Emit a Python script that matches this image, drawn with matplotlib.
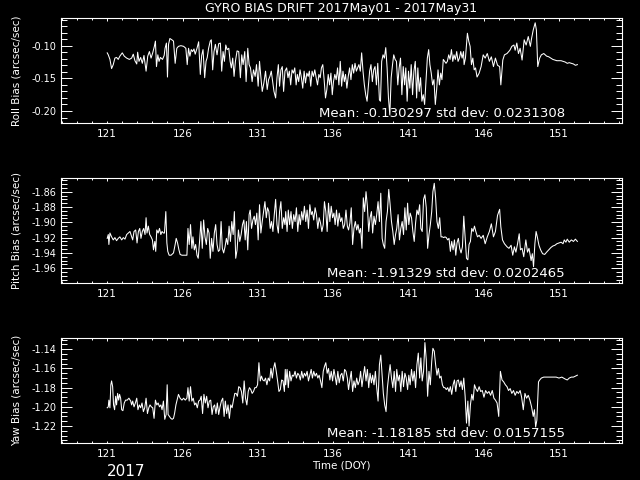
import matplotlib
matplotlib.use("Agg")
import matplotlib.pyplot as plt
from matplotlib.ticker import MultipleLocator, FixedLocator, FormatStrFormatter

# Gyro bias drift (DOY vs arcsec/sec)
roll_day = [
    121.00, 121.07, 121.18, 121.29, 121.40, 121.51, 121.62, 121.73, 121.84, 122.00,
    122.13, 122.29, 122.47, 122.62, 122.73, 122.84, 122.96, 123.02, 123.11, 123.22,
    123.33, 123.44, 123.58, 123.69, 123.80, 123.91, 124.02, 124.13, 124.20, 124.27,
    124.36, 124.44, 124.53, 124.67, 124.78, 124.84, 124.93, 125.00, 125.07, 125.16,
    125.29, 125.40, 125.51, 125.62, 125.73, 125.89, 126.07, 126.22, 126.31, 126.40,
    126.49, 126.58, 126.67, 126.76, 126.84, 126.96, 127.07, 127.18, 127.27, 127.36,
    127.47, 127.56, 127.64, 127.73, 127.84, 127.91, 128.00, 128.09, 128.18, 128.29,
    128.40, 128.51, 128.60, 128.69, 128.78, 128.87, 128.96, 129.07, 129.16, 129.24,
    129.33, 129.42, 129.51, 129.62, 129.73, 129.84, 129.93, 130.02, 130.13, 130.22,
    130.33, 130.42, 130.51, 130.62, 130.71, 130.82, 130.91, 131.02, 131.11, 131.20,
    131.29, 131.40, 131.51, 131.62, 131.71, 131.80, 131.89, 131.98, 132.07, 132.18,
    132.27, 132.36, 132.44, 132.53, 132.62, 132.71, 132.80,
    132.91, 133.00, 133.09, 133.18, 133.27, 133.36, 133.45, 133.54, 133.62, 133.71,
    133.80, 133.89, 133.98, 134.07, 134.16, 134.25, 134.34, 134.42, 134.51, 134.60,
    134.69, 134.78, 134.87, 134.96, 135.05, 135.14, 135.22, 135.31, 135.40, 135.49,
    135.58, 135.67, 135.76, 135.85, 135.94, 136.02, 136.11, 136.20, 136.29, 136.38,
    136.47, 136.56, 136.65, 136.74, 136.82, 136.91, 137.00, 137.09, 137.18, 137.27,
    137.36, 137.45, 137.54, 137.62, 137.71, 137.80, 137.89, 137.98, 138.07, 138.16,
    138.25, 138.34, 138.42, 138.51, 138.60, 138.69, 138.78, 138.87, 138.96, 139.07,
    139.14, 139.22, 139.31, 139.40, 139.49, 139.58, 139.67, 139.76, 139.85, 139.94,
    140.02, 140.11, 140.20, 140.29, 140.38, 140.47, 140.56, 140.65, 140.74, 140.82,
    140.91, 141.00, 141.09, 141.18, 141.27, 141.36, 141.45, 141.54, 141.62, 141.71,
    141.80, 141.89, 141.98, 142.07, 142.16, 142.25, 142.34, 142.42, 142.51, 142.60,
    142.69, 142.78, 142.87, 142.96, 143.05, 143.14, 143.22, 143.31, 143.40, 143.49,
    143.58, 143.67, 143.76, 143.85, 143.94, 144.02, 144.11, 144.20, 144.29, 144.38,
    144.47, 144.56, 144.65, 144.69, 144.78, 144.85, 144.91, 145.00, 145.09, 145.18,
    145.27, 145.36, 145.45,
    145.55, 145.69, 145.82, 145.96, 146.09, 146.23, 146.37, 146.50, 146.64, 146.77,
    146.91, 147.05, 147.13, 147.26, 147.37, 147.54, 147.73, 147.86, 148.00, 148.08,
    148.19, 148.30, 148.41, 148.54, 148.68, 148.81, 148.95, 149.09, 149.17, 149.28,
    149.41, 149.49, 149.58, 149.71, 149.82, 149.98, 150.17, 150.31, 150.45, 150.58,
    150.72, 150.85, 150.99, 151.13, 151.26, 151.40, 151.54, 151.67, 151.81, 151.95,
    152.08, 152.21,
]
roll_val = [
    -0.111, -0.114, -0.121, -0.135, -0.129, -0.119, -0.118, -0.121, -0.116, -0.111,
    -0.116, -0.119, -0.121, -0.119, -0.113, -0.123, -0.128, -0.110, -0.124, -0.118,
    -0.127, -0.115, -0.139, -0.116, -0.109, -0.119, -0.111, -0.101, -0.093, -0.132,
    -0.114, -0.124, -0.118, -0.121, -0.115, -0.104, -0.096, -0.148, -0.098, -0.089,
    -0.091, -0.093, -0.127, -0.104, -0.101, -0.100, -0.101, -0.104, -0.129, -0.104,
    -0.116, -0.106, -0.109, -0.105, -0.113, -0.104, -0.094, -0.144, -0.115, -0.106,
    -0.149, -0.124, -0.118, -0.104, -0.093, -0.091, -0.137, -0.109, -0.098, -0.114,
    -0.097, -0.096, -0.139, -0.109, -0.124, -0.099, -0.106, -0.104, -0.124, -0.134,
    -0.119, -0.147, -0.124, -0.108, -0.109, -0.149, -0.114, -0.129, -0.109, -0.155,
    -0.104, -0.129, -0.134, -0.155, -0.137, -0.147, -0.129, -0.162, -0.124, -0.148,
    -0.170, -0.157, -0.139, -0.167, -0.152, -0.147, -0.139, -0.155, -0.170, -0.180,
    -0.149, -0.129, -0.162, -0.137, -0.132, -0.170, -0.139,
    -0.134, -0.149, -0.139, -0.160, -0.137, -0.142, -0.134, -0.160, -0.144, -0.155,
    -0.137, -0.149, -0.165, -0.139, -0.157, -0.142, -0.147, -0.139, -0.162, -0.139,
    -0.147, -0.137, -0.149, -0.160, -0.144, -0.149, -0.134, -0.129, -0.152, -0.180,
    -0.167, -0.144, -0.160, -0.142, -0.175, -0.155, -0.144, -0.152, -0.134, -0.160,
    -0.124, -0.162, -0.139, -0.155, -0.144, -0.165, -0.147, -0.134, -0.152, -0.129,
    -0.142, -0.127, -0.139, -0.134, -0.129, -0.139, -0.111, -0.139, -0.160, -0.175,
    -0.185, -0.160, -0.139, -0.129, -0.155, -0.137, -0.132, -0.160, -0.127, -0.183,
    -0.185, -0.124, -0.114, -0.119, -0.103, -0.134, -0.180, -0.206, -0.149, -0.129,
    -0.114, -0.121, -0.124, -0.160, -0.134, -0.119, -0.175, -0.132, -0.160, -0.134,
    -0.185, -0.139, -0.165, -0.129, -0.175, -0.139, -0.124, -0.180, -0.134, -0.170,
    -0.149, -0.185, -0.175, -0.190, -0.155, -0.119, -0.106, -0.129, -0.142, -0.160,
    -0.152, -0.190, -0.167, -0.137, -0.160, -0.142, -0.152, -0.121, -0.124, -0.127,
    -0.124, -0.114, -0.121, -0.106, -0.124, -0.114, -0.121, -0.109, -0.124, -0.119,
    -0.109, -0.119, -0.109, -0.129, -0.119, -0.098, -0.081, -0.093, -0.101, -0.129,
    -0.119, -0.137, -0.134,
    -0.148, -0.142, -0.132, -0.114, -0.119, -0.112, -0.124, -0.117, -0.132, -0.119,
    -0.130, -0.132, -0.160, -0.122, -0.114, -0.112, -0.107, -0.101, -0.099, -0.107,
    -0.096, -0.112, -0.104, -0.122, -0.091, -0.099, -0.086, -0.101, -0.089, -0.076,
    -0.065, -0.076, -0.132, -0.119, -0.114, -0.112, -0.116, -0.117, -0.119, -0.121,
    -0.122, -0.123, -0.123, -0.123, -0.124, -0.125, -0.127, -0.126, -0.127, -0.128,
    -0.130, -0.129,
]

pitch_day = [
    121.00, 121.07, 121.11, 121.18, 121.29, 121.40, 121.51, 121.62, 121.73, 121.84,
    121.96, 122.07, 122.18, 122.29, 122.40, 122.51, 122.62, 122.69, 122.78, 122.89,
    122.98, 123.07, 123.16, 123.24, 123.33, 123.42, 123.51, 123.58, 123.64, 123.73,
    123.82, 123.91, 124.00, 124.07, 124.16, 124.22, 124.29, 124.38, 124.47, 124.56,
    124.64, 124.73, 124.80, 124.89, 124.96, 125.02, 125.11, 125.24, 125.40, 125.51,
    125.58, 125.67, 125.76, 125.84, 125.96, 126.13, 126.29, 126.36, 126.44, 126.53,
    126.62, 126.69, 126.78, 126.87, 126.96, 127.04, 127.13, 127.22, 127.31, 127.40,
    127.49, 127.58, 127.67, 127.76, 127.84, 127.93, 128.02, 128.11, 128.20, 128.29,
    128.38, 128.47, 128.56, 128.64, 128.73, 128.82, 128.91, 129.00, 129.09, 129.18,
    129.27, 129.36, 129.44, 129.53, 129.62, 129.71, 129.80, 129.89, 129.98, 130.07,
    130.16, 130.24, 130.33, 130.42, 130.49, 130.58, 130.67, 130.76, 130.84, 130.93,
    131.02, 131.11, 131.20, 131.29, 131.38, 131.47, 131.56, 131.64, 131.73, 131.82,
    131.91, 132.00, 132.09, 132.18, 132.27, 132.36, 132.44, 132.53, 132.62, 132.71,
    132.80,
    132.85, 132.94, 133.02, 133.11, 133.20, 133.29, 133.38, 133.47, 133.56, 133.65,
    133.74, 133.82, 133.91, 134.00, 134.09, 134.18, 134.27, 134.36, 134.45, 134.54,
    134.62, 134.71, 134.80, 134.89, 134.98, 135.07, 135.16, 135.25, 135.34, 135.42,
    135.51, 135.60, 135.69, 135.78, 135.87, 135.96, 136.05, 136.13, 136.22, 136.31,
    136.40, 136.49, 136.58, 136.67, 136.76, 136.85, 136.94, 137.02, 137.11, 137.20,
    137.29, 137.38, 137.47, 137.56, 137.65, 137.74, 137.82, 137.91, 138.00, 138.09,
    138.18, 138.27, 138.36, 138.45, 138.54, 138.62, 138.71, 138.80, 138.89, 138.98,
    139.07, 139.16, 139.25, 139.33, 139.42, 139.51, 139.60, 139.69, 139.78, 139.87,
    139.96, 140.05, 140.14, 140.22, 140.31, 140.40, 140.49, 140.58, 140.67, 140.76,
    140.85, 140.94, 141.02, 141.11, 141.20, 141.29, 141.38, 141.47, 141.56, 141.65,
    141.74, 141.82, 141.91, 142.00, 142.09, 142.18, 142.27, 142.36, 142.45, 142.54,
    142.62, 142.71, 142.80, 142.89, 142.98, 143.07, 143.16, 143.25, 143.34, 143.42,
    143.51, 143.60, 143.69, 143.78, 143.87, 143.96, 144.05, 144.14, 144.22, 144.31,
    144.40, 144.49, 144.58, 144.67, 144.76, 144.85, 144.94, 145.02, 145.11, 145.20,
    145.29, 145.38,
    145.47, 145.58, 145.69, 145.82, 145.96, 146.09, 146.23, 146.37, 146.50, 146.64,
    146.77, 146.91, 147.05, 147.13, 147.24, 147.37, 147.54, 147.67, 147.81, 147.92,
    148.03, 148.13, 148.24, 148.35, 148.43, 148.54, 148.65, 148.79, 148.90, 149.00,
    149.14, 149.22, 149.30, 149.39, 149.47, 149.55, 149.66, 149.77, 149.90, 150.04,
    150.17, 150.31, 150.45, 150.58, 150.72, 150.85, 150.99, 151.13, 151.26, 151.34,
    151.45, 151.54, 151.67, 151.81, 151.95, 152.08, 152.21,
]
pitch_val = [
    -1.921, -1.916, -1.929, -1.914, -1.919, -1.923, -1.920, -1.924, -1.921, -1.919,
    -1.923, -1.920, -1.922, -1.916, -1.914, -1.912, -1.919, -1.923, -1.912, -1.910,
    -1.927, -1.912, -1.908, -1.921, -1.912, -1.908, -1.916, -1.894, -1.914, -1.905,
    -1.916, -1.919, -1.923, -1.936, -1.925, -1.938, -1.910, -1.914, -1.908, -1.916,
    -1.912, -1.914, -1.914, -1.886, -1.927, -1.938, -1.943, -1.943, -1.940, -1.929,
    -1.921, -1.927, -1.936, -1.942, -1.943, -1.943, -1.943, -1.908, -1.929, -1.903,
    -1.934, -1.919, -1.936, -1.929, -1.943, -1.947, -1.925, -1.899, -1.934, -1.897,
    -1.919, -1.929, -1.908, -1.914, -1.947, -1.921, -1.938, -1.914, -1.903, -1.929,
    -1.938, -1.936, -1.899, -1.934, -1.940, -1.932, -1.921, -1.929, -1.905, -1.925,
    -1.899, -1.916, -1.886, -1.947, -1.936, -1.910, -1.925, -1.916, -1.903, -1.897,
    -1.923, -1.899, -1.936, -1.890, -1.884, -1.908, -1.897, -1.892, -1.903, -1.888,
    -1.923, -1.877, -1.914, -1.899, -1.886, -1.873, -1.894, -1.881, -1.886, -1.908,
    -1.899, -1.912, -1.890, -1.870, -1.903, -1.914, -1.886, -1.873, -1.908, -1.894,
    -1.903,
    -1.886, -1.912, -1.884, -1.903, -1.886, -1.908, -1.890, -1.899, -1.881, -1.912,
    -1.890, -1.903, -1.886, -1.897, -1.879, -1.899, -1.884, -1.908, -1.877, -1.890,
    -1.886, -1.897, -1.881, -1.890, -1.908, -1.894, -1.901, -1.912, -1.903, -1.873,
    -1.886, -1.912, -1.875, -1.899, -1.879, -1.894, -1.888, -1.903, -1.884, -1.905,
    -1.888, -1.899, -1.894, -1.908, -1.903, -1.884, -1.905, -1.910, -1.901, -1.881,
    -1.929, -1.908, -1.899, -1.910, -1.903, -1.914, -1.908, -1.934, -1.868, -1.886,
    -1.860, -1.879, -1.912, -1.894, -1.886, -1.914, -1.892, -1.903, -1.890, -1.873,
    -1.899, -1.862, -1.921, -1.929, -1.934, -1.899, -1.886, -1.857, -1.877, -1.899,
    -1.912, -1.929, -1.916, -1.908, -1.890, -1.923, -1.908, -1.899, -1.916, -1.881,
    -1.910, -1.875, -1.903, -1.888, -1.894, -1.912, -1.925, -1.901, -1.884, -1.890,
    -1.877, -1.908, -1.912, -1.870, -1.864, -1.881, -1.934, -1.916, -1.903, -1.886,
    -1.860, -1.849, -1.868, -1.899, -1.908, -1.894, -1.919, -1.919, -1.920, -1.919,
    -1.920, -1.923, -1.921, -1.938, -1.925, -1.936, -1.923, -1.943, -1.927, -1.921,
    -1.934, -1.940, -1.932, -1.892, -1.919, -1.947, -1.949, -1.929, -1.925, -1.908,
    -1.912, -1.905,
    -1.912, -1.919, -1.917, -1.921, -1.917, -1.928, -1.919, -1.912, -1.902, -1.919,
    -1.912, -1.891, -1.883, -1.906, -1.923, -1.928, -1.932, -1.934, -1.930, -1.943,
    -1.932, -1.939, -1.928, -1.915, -1.936, -1.934, -1.945, -1.923, -1.939, -1.934,
    -1.950, -1.941, -1.958, -1.928, -1.912, -1.919, -1.930, -1.936, -1.941, -1.942,
    -1.939, -1.936, -1.933, -1.931, -1.930, -1.928, -1.927, -1.926, -1.928, -1.923,
    -1.926, -1.922, -1.926, -1.923, -1.925, -1.922, -1.925,
]

yaw_day = [
    121.00, 121.07, 121.11, 121.18, 121.24, 121.29, 121.36, 121.42, 121.49, 121.56,
    121.62, 121.69, 121.76, 121.82, 121.89, 121.96, 122.04, 122.13, 122.22, 122.33,
    122.44, 122.56, 122.62, 122.69, 122.78, 122.87, 122.96, 123.04, 123.13, 123.22,
    123.31, 123.40, 123.49, 123.58, 123.67, 123.76, 123.84, 123.93, 124.02, 124.11,
    124.20, 124.29, 124.38, 124.47, 124.56, 124.64, 124.73, 124.82, 124.91, 124.98,
    125.04, 125.13, 125.22, 125.31, 125.40, 125.47, 125.56, 125.64, 125.73, 125.84,
    125.96, 126.07, 126.18, 126.29, 126.36, 126.44, 126.53, 126.62, 126.71, 126.80,
    126.89, 126.98, 127.07, 127.16, 127.24, 127.33, 127.42, 127.51, 127.60, 127.69,
    127.78, 127.87, 127.96, 128.04, 128.13, 128.22, 128.31, 128.40, 128.49, 128.58,
    128.67, 128.76, 128.84, 128.93, 129.02, 129.11, 129.20, 129.29, 129.38, 129.47,
    129.56, 129.64, 129.73, 129.82, 129.91, 130.00, 130.09, 130.18, 130.27, 130.36,
    130.44, 130.53, 130.62, 130.71, 130.80, 130.89, 130.98, 131.07, 131.16, 131.24,
    131.33, 131.42, 131.51, 131.60, 131.69, 131.78, 131.87, 131.96, 132.04, 132.13,
    132.22, 132.31, 132.40, 132.49, 132.58, 132.67, 132.76, 132.82,
    132.85, 132.94, 133.02, 133.11, 133.20, 133.29, 133.38, 133.47, 133.56, 133.65,
    133.74, 133.82, 133.91, 134.00, 134.09, 134.18, 134.27, 134.36, 134.45, 134.54,
    134.62, 134.71, 134.80, 134.89, 134.98, 135.07, 135.16, 135.25, 135.34, 135.42,
    135.51, 135.60, 135.69, 135.78, 135.87, 135.96, 136.05, 136.13, 136.22, 136.31,
    136.40, 136.49, 136.58, 136.67, 136.76, 136.85, 136.94, 137.02, 137.11, 137.20,
    137.29, 137.38, 137.47, 137.56, 137.65, 137.74, 137.82, 137.91, 138.00, 138.09,
    138.18, 138.27, 138.36, 138.45, 138.54, 138.62, 138.71, 138.80, 138.89, 138.98,
    139.07, 139.16, 139.25, 139.33, 139.42, 139.51, 139.60, 139.69, 139.78, 139.87,
    139.96, 140.05, 140.14, 140.22, 140.31, 140.40, 140.49, 140.58, 140.67, 140.76,
    140.85, 140.94, 141.02, 141.11, 141.20, 141.29, 141.38, 141.47, 141.56, 141.65,
    141.74, 141.82, 141.91, 142.00, 142.09, 142.18, 142.27, 142.36, 142.45, 142.54,
    142.62, 142.71, 142.80, 142.89, 142.98, 143.07, 143.16, 143.25, 143.34, 143.42,
    143.51, 143.60, 143.69, 143.78, 143.87, 143.96, 144.05, 144.14, 144.22, 144.31,
    144.40, 144.49, 144.58, 144.67, 144.76, 144.85, 144.94, 145.02, 145.11, 145.20,
    145.29, 145.38,
    145.47, 145.58, 145.69, 145.79, 145.90, 146.01, 146.12, 146.23, 146.34, 146.45,
    146.56, 146.67, 146.77, 146.88, 146.99, 147.10, 147.21, 147.32, 147.43, 147.54,
    147.64, 147.75, 147.86, 147.97, 148.08, 148.19, 148.30, 148.41, 148.51, 148.62,
    148.73, 148.84, 148.95, 149.06, 149.17, 149.28, 149.36, 149.44, 149.52, 149.63,
    149.71, 149.82, 149.98, 150.17, 150.36, 150.58, 150.80, 150.99, 151.18, 151.40,
    151.54, 151.67, 151.81, 151.95, 152.08, 152.21,
]
yaw_val = [
    -1.201, -1.200, -1.193, -1.201, -1.177, -1.173, -1.179, -1.198, -1.203, -1.189,
    -1.198, -1.186, -1.193, -1.187, -1.191, -1.203, -1.204, -1.196, -1.193, -1.193,
    -1.191, -1.194, -1.198, -1.194, -1.200, -1.196, -1.191, -1.203, -1.198, -1.201,
    -1.196, -1.205, -1.201, -1.191, -1.207, -1.201, -1.198, -1.200, -1.201, -1.212,
    -1.193, -1.198, -1.196, -1.200, -1.198, -1.203, -1.194, -1.213, -1.208, -1.177,
    -1.208, -1.210, -1.212, -1.213, -1.212, -1.207, -1.198, -1.193, -1.187, -1.191,
    -1.193, -1.191, -1.193, -1.191, -1.180, -1.194, -1.179, -1.194, -1.191, -1.198,
    -1.196, -1.201, -1.194, -1.193, -1.189, -1.207, -1.187, -1.196, -1.189, -1.201,
    -1.194, -1.193, -1.208, -1.200, -1.198, -1.207, -1.196, -1.208, -1.200, -1.194,
    -1.191, -1.210, -1.194, -1.207, -1.198, -1.212, -1.198, -1.201, -1.193, -1.186,
    -1.186, -1.189, -1.179, -1.180, -1.184, -1.196, -1.173, -1.191, -1.198, -1.184,
    -1.180, -1.182, -1.186, -1.184, -1.180, -1.180, -1.177, -1.154, -1.173, -1.168,
    -1.172, -1.173, -1.170, -1.177, -1.170, -1.173, -1.160, -1.170, -1.160, -1.154,
    -1.163, -1.173, -1.184, -1.182, -1.172, -1.173, -1.184, -1.161,
    -1.177, -1.161, -1.180, -1.163, -1.173, -1.167, -1.168, -1.163, -1.170, -1.165,
    -1.167, -1.172, -1.163, -1.170, -1.165, -1.168, -1.163, -1.173, -1.167, -1.161,
    -1.170, -1.163, -1.168, -1.165, -1.170, -1.167, -1.173, -1.180, -1.163, -1.158,
    -1.154, -1.165, -1.160, -1.172, -1.163, -1.173, -1.161, -1.168, -1.177, -1.163,
    -1.175, -1.167, -1.165, -1.173, -1.161, -1.163, -1.170, -1.182, -1.172, -1.163,
    -1.184, -1.173, -1.180, -1.170, -1.177, -1.173, -1.163, -1.179, -1.168, -1.158,
    -1.173, -1.161, -1.180, -1.165, -1.175, -1.167, -1.177, -1.163, -1.180, -1.194,
    -1.156, -1.146, -1.167, -1.186, -1.198, -1.205, -1.180, -1.167, -1.156, -1.170,
    -1.180, -1.163, -1.184, -1.161, -1.173, -1.167, -1.184, -1.163, -1.179, -1.165,
    -1.170, -1.182, -1.167, -1.177, -1.161, -1.173, -1.163, -1.180, -1.156, -1.144,
    -1.170, -1.149, -1.173, -1.163, -1.133, -1.151, -1.189, -1.163, -1.177, -1.153,
    -1.139, -1.142, -1.156, -1.167, -1.160, -1.170, -1.168, -1.177, -1.180, -1.180,
    -1.182, -1.180, -1.184, -1.179, -1.187, -1.177, -1.172, -1.184, -1.173, -1.172,
    -1.179, -1.173, -1.182, -1.170, -1.189, -1.217, -1.194, -1.220, -1.198, -1.187,
    -1.193, -1.177,
    -1.181, -1.184, -1.179, -1.184, -1.183, -1.190, -1.183, -1.186, -1.184, -1.188,
    -1.183, -1.191, -1.193, -1.196, -1.210, -1.163, -1.172, -1.174, -1.177, -1.179,
    -1.183, -1.181, -1.186, -1.183, -1.188, -1.184, -1.186, -1.183, -1.190, -1.203,
    -1.186, -1.191, -1.188, -1.193, -1.200, -1.210, -1.203, -1.221, -1.214, -1.174,
    -1.172, -1.170, -1.169, -1.169, -1.169, -1.169, -1.169, -1.170, -1.169, -1.171,
    -1.172, -1.170, -1.169, -1.169, -1.168, -1.167,
]

x_ticks = [121, 126, 131, 136, 141, 146, 151]
y_labels = ["Roll Bias (arcsec/sec)", "Pitch Bias (arcsec/sec)", "Yaw Bias (arcsec/sec)"]
stats = ["Mean: -0.130297 std dev: 0.0231308",
         "Mean: -1.91329 std dev: 0.0202465",
         "Mean: -1.18185 std dev: 0.0157155"]
titulo = "GYRO BIAS DRIFT 2017May01 - 2017May31"

# limits and tick steps of each panel
y_lims = [(-0.2188, -0.0572), (-1.9797, -1.8417), (-1.2380, -1.1279)]
y_major = [0.05, 0.02, 0.02]
y_minor = [0.01, 0.005, 0.005]
bottoms = [0.7431, 0.4098, 0.0765]

fig = plt.figure(figsize=(6.4, 4.8), dpi=100, facecolor="black")

series = [(roll_day, roll_val), (pitch_day, pitch_val), (yaw_day, yaw_val)]
for i, (dias, vals) in enumerate(series):
    ax = fig.add_axes([0.0948, bottoms[i], 0.877, 0.22], facecolor="black")
    ax.plot(dias, vals, color="white", linewidth=0.75)
    ax.set_xlim(117.91, 155.17)
    ax.set_ylim(*y_lims[i])

    ax.xaxis.set_major_locator(FixedLocator(x_ticks))
    ax.xaxis.set_minor_locator(MultipleLocator(1))
    ax.yaxis.set_major_locator(MultipleLocator(y_major[i]))
    ax.yaxis.set_minor_locator(MultipleLocator(y_minor[i]))
    ax.yaxis.set_major_formatter(FormatStrFormatter("%.2f"))

    for sp in ax.spines.values():
        sp.set_color("white")
        sp.set_linewidth(0.8)

    ax.tick_params(axis="y", which="major", direction="in", length=7.9, width=0.7,
                   left=True, right=True, color="white", labelcolor="white",
                   labelsize=7, pad=3)
    ax.tick_params(axis="y", which="minor", direction="in", length=4, width=0.7,
                   left=True, right=True, color="white")
    ax.tick_params(axis="x", which="major", direction="in", length=1.8, width=0.7,
                   top=True, bottom=True, color="white", labelcolor="white",
                   labelsize=7.5, pad=4)
    ax.tick_params(axis="x", which="minor", direction="in", length=1.4, width=0.7,
                   top=True, bottom=True, color="white")

    ax.text(0.898, 0.0625, stats[i], transform=ax.transAxes, color="white",
            fontsize=9.5, ha="right", va="baseline")

    # y label centred on the panel
    fig.text(17 / 640, bottoms[i] + 0.11, y_labels[i], rotation=90, color="white",
             fontsize=7.5, ha="center", va="center")

fig.text(341 / 640, 1 - 11.7 / 480, titulo, color="white", fontsize=9,
         ha="center", va="baseline")
fig.text(341 / 640, 1 - 466 / 480, "Time (DOY)", color="white", fontsize=7.5,
         ha="center", va="center")
fig.text(107 / 640, 1 - 476 / 480, "2017", color="white", fontsize=11,
         ha="left", va="baseline")

fig.savefig("out.png", dpi=100, facecolor="black")
